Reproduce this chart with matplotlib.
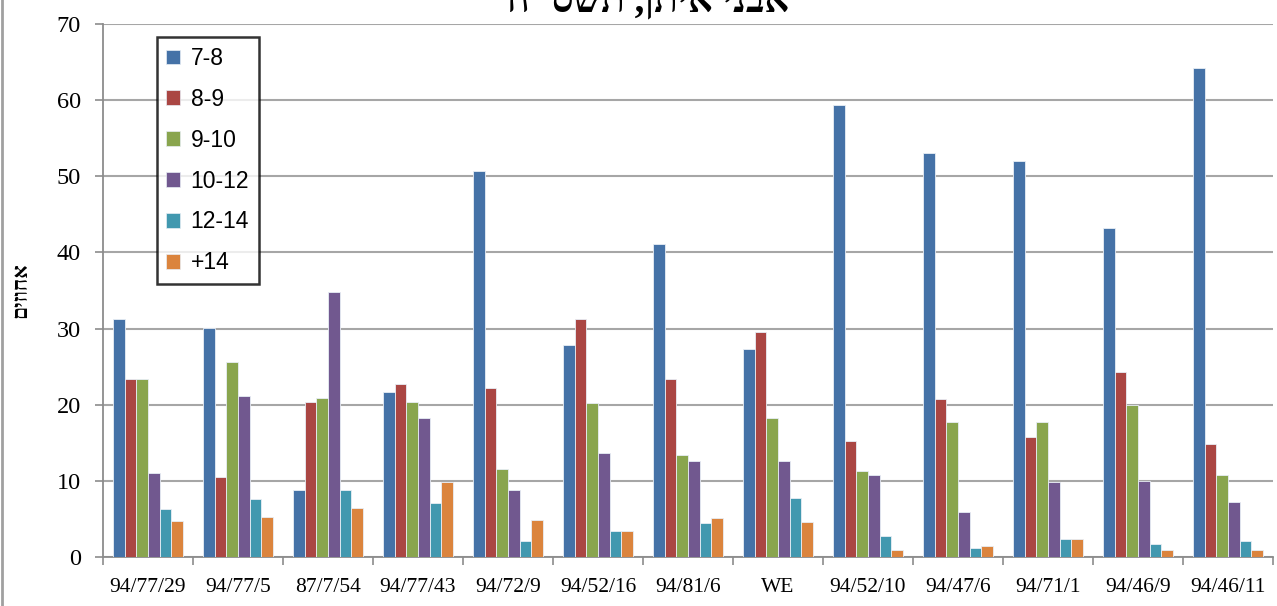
import matplotlib.pyplot as plt
import numpy as np
from matplotlib.patches import Patch

# samples and size classes
samples = ["94/77/29", "94/77/5", "87/7/54", "94/77/43", "94/72/9", "94/52/16",
           "94/81/6", "WE", "94/52/10", "94/47/6", "94/71/1", "94/46/9", "94/46/11"]
classes = ["7-8", "8-9", "9-10", "10-12", "12-14", "+14"]

# percent per size class, one list per class (same order as samples)
c_7_8 = [31.3, 30.1, 8.8, 21.7, 50.7, 27.9, 41.1, 27.3, 59.3, 53.0, 52.0, 43.2, 64.2]
c_8_9 = [23.4, 10.5, 20.4, 22.7, 22.2, 31.2, 23.4, 29.5, 15.2, 20.7, 15.7, 24.3, 14.8]
c_9_10 = [23.4, 25.6, 20.9, 20.4, 11.5, 20.2, 13.4, 18.2, 11.3, 17.7, 17.7, 20.0, 10.8]
c_10_12 = [11.0, 21.1, 34.8, 18.2, 8.8, 13.6, 12.6, 12.6, 10.8, 5.9, 9.8, 10.0, 7.2]
c_12_14 = [6.3, 7.6, 8.8, 7.1, 2.1, 3.4, 4.4, 7.8, 2.7, 1.2, 2.4, 1.7, 2.1]
c_14 = [4.7, 5.2, 6.4, 9.8, 4.8, 3.4, 5.1, 4.6, 0.9, 1.5, 2.4, 0.9, 0.9]

series = [c_7_8, c_8_9, c_9_10, c_10_12, c_12_14, c_14]
colors = ["#4572A7", "#AA4643", "#89A54E", "#71588F", "#4198AF", "#DB843D"]

# matplotlib has no bidi support, so hebrew strings are stored in visual order
title_txt = 'אבני איתן, תשס"ח'[::-1]
ylabel_txt = "אחוזים"[::-1]

W, H = 1277, 606
fig = plt.figure(figsize=(W / 100, H / 100), dpi=100)
ax = fig.add_axes([103 / W, 49 / H, 1170 / W, 533 / H])

x = np.arange(len(samples))
bw = 0.128
for i, (vals, col) in enumerate(zip(series, colors)):
    ax.bar(x + (i - 2.5) * bw, vals, bw, color=col, edgecolor="#e8eef5",
           linewidth=0.6, zorder=3)

ax.set_xlim(-0.5, len(samples) - 0.5)
ax.set_ylim(0, 70)
ax.set_yticks(range(0, 71, 10))
ax.set_yticklabels([str(v) for v in range(0, 71, 10)],
                   fontfamily="Liberation Serif", fontsize=17.5)
ax.yaxis.grid(True, color="#a6a6a6", linewidth=1.5, zorder=0)

ax.set_xticks(x)
ax.set_xticklabels(samples, fontfamily="Liberation Serif", fontsize=15.5)
ax.set_xticks(np.arange(-0.5, len(samples) + 0.5), minor=True)
ax.tick_params(axis="x", which="major", length=0, pad=15)
ax.tick_params(axis="x", which="minor", length=6, width=1.2, color="#8c8c8c")
ax.tick_params(axis="y", length=6, width=1.2, color="#8c8c8c", pad=10)

for s in ["top", "right"]:
    ax.spines[s].set_visible(False)
for s in ["left", "bottom"]:
    ax.spines[s].set_color("#8c8c8c")
    ax.spines[s].set_linewidth(1.3)

handles = [Patch(facecolor=c, edgecolor="#e8eef5", linewidth=0.5) for c in colors]
leg = ax.legend(handles, classes, loc="upper left", bbox_to_anchor=(0.046, 0.975),
                prop={"family": "Liberation Sans", "size": 16.5}, frameon=True,
                fancybox=False, handlelength=0.6, handleheight=0.6,
                handletextpad=0.45, labelspacing=0.78, borderpad=0.42,
                borderaxespad=0)
leg.get_frame().set_edgecolor("black")
leg.get_frame().set_linewidth(1.8)
leg.set_zorder(5)

fig.text(648 / W, (H - 12) / H, title_txt, ha="center", va="baseline",
         fontsize=28, fontweight="bold", fontfamily="Liberation Serif")
fig.text(21 / W, (H - 290) / H, ylabel_txt, ha="center", va="center", rotation=90,
         fontsize=15, fontweight="bold", fontfamily="Liberation Serif")

# thin frame on the left edge of the chart area
fig.add_artist(plt.Line2D([2 / W, 2 / W], [0, 1], color="#a0a0a0", linewidth=2))

fig.savefig("out.png", dpi=100)
